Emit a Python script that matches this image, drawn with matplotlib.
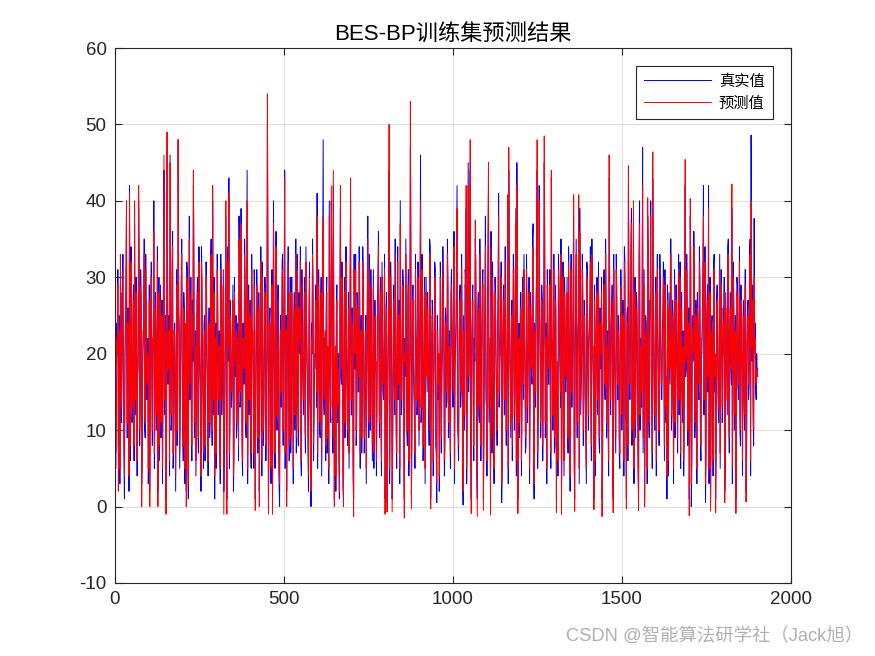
import numpy as np
import matplotlib
matplotlib.use("Agg")
from matplotlib import pyplot as plt

# readings of the training set, taken at two offsets inside every 3-sample step
true_a = [
	29, 14, 22, 8, 25, 19, 11, 27, 15, 1, 24, 38, 9, 18, 42, 6, 21, 13, 29, 37,
	12, 26, 17, 40, 8, 31, 3, 19, 24, 10, 33, 14, 22, 7, 2, 28, 16, 20, 40, 11,
	23, 15, 2, 30, 18, 9, 27, 13, 44, 20, 1, 47, 16, 25, 46, 10, 32, 5, 21, 14,
	19, 8, 48, 24, 12, 29, 17, 6, 26, 15, 2, 31, 1, 38, 20, 11, 27, 42, 9, 23,
	16, 30, 7, 21, 13, 34, 18, 5, 25, 11, 28, 15, 22, 9, 32, 17, 40, 12, 1, 24,
	14, 27, 19, 8, 33, 12, 24, 2, 17, 38, 1, 26, 43, 10, 21, 15, 29, 6, 18, 25,
	11, 20, 38, 13, 39, 7, 24, 16, 30, 9, 44, 18, 12, 27, 5, 22, 15, 31, 1, 19,
	26, 13, 2, 23, 17, 32, 8, 20, 28, 14, 50, 1, 24, 18, 10, 1.5, 40, 16, 29, 12,
	21, 9, 0, 25, 15, 33, 19, 44, 11, 2, 27, 14, 22, 7, 30, 17, 24, 10, 35, 18,
	13, 28, 20, 6, 31, 16, 23, 11, 34, 19, 8, 26, 14, 0, 22, 29, 12, 18, 25, 41,
	15, 24, 9, 30, 18, 48, 12, 21, 27, 7, 17, 40, 14, 40, 23, 42, 1, 19, 26, 11,
	20, 1, 39, 16, 25, 1, 30, 13, 22, 8, 28, 17, 40, 12, 24, 1, 19, 33, 10, 26,
	15, 29, 21, 7, 34, 18, 11, 25, 16, 38, 9, 23, 31, 14, 20, 5, 27, 17, 12, 30,
	18, 24, 10, 32, 15, 21, 1, 26, 0.5, 19, 44, 13, 28, 1, 22, 16, 35, 9, 24, 14,
	27, 40, 12, 20, 29, 1, 17, 23, 8, 31, 15, 47, 1.5, 25, 18, 11, 33, 20, 14, 26,
	19, 46, 13, 24, 9, 30, 17, 22, 28, 12, 35, 1, 20, 26, 15, 32, 8, 0.5, 23, 18,
	11, 27, 16, 34, 21, 7, 25, 14, 30, 19, 10, 28, 22, 13, 36, 17, 24, 42, 9, 20,
	29, 15, 23, 0.2, 18, 31, 39, 12, 45, 20, 44, 1, 26, 14, 22, 35, 17, 1, 28, 11,
	24, 18, 30, 1, 21, 38, 13, 26, 42, 16, 1, 23, 32, 10, 19, 27, 14, 22, 41, 17,
	25, 0.5, 20, 29, 12, 23, 16, 38, 44, 21, 9, 27, 18, 31, 14, 39, 45, 1, 24, 15,
	28, 12, 22, 33, 17, 8, 26, 19, 30, 13, 24, 16, 37, 1, 21, 28, 44, 11, 42, 20,
	14, 27, 18, 45, 9, 24, 31, 16, 22, 12, 43, 19, 26, 7, 29, 1, 17, 33, 21, 13,
	1, 25, 19, 30, 15, 22, 10, 34, 18, 26, 13, 21, 38, 1, 28, 16, 23, 38, 39, 12,
	20, 29, 14, 24, 8, 32, 17, 22, 27, 11, 35, 19, 1, 25, 15, 30, 21, 9, 26, 18,
	1, 23, 31, 14, 27, 19, 10, 43, 16, 24, 29, 1, 20, 12, 33, 18, 25, 7, 22, 28,
	15, 21, 34, 12, 1, 26, 42, 17, 23, 39, 14, 38, 20, 9, 28, 16, 1, 40, 22, 13,
	47, 18, 1, 25, 19, 38, 12, 27, 40, 15, 43, 21, 10, 30, 17, 24, 8, 33, 20, 14,
	26, 19, 31, 11, 1, 22, 28, 16, 35, 13, 24, 20, 9, 29, 17, 25, 12, 32, 21, 15,
	23, 10, 42, 18, 27, 14, 1, 38, 0, 25, 19, 30, 12, 22, 28, 16, 34, 9, 20, 26,
	42, 17, 0.5, 23, 29, 42, 13, 1, 24, 19, 31, 15, 1, 27, 21, 11, 33, 18, 25, 14,
	22, 2, 28, 17, 34, 12, 24, 19, 39, 15, 26, 21, 1, 30, 16, 23, 10, 29, 18, 25,
	13, 31, 2, 22, 27, 16, 35, 48.6, 19, 11, 37.7, 24, 14, 17,
]

true_b = [
	5, 24, 31, 12, 3, 28, 17, 33, 7, 20, 30, 9, 26, 2, 19, 34, 11, 27, 6, 22,
	30, 4, 18, 33, 13, 27, 6, 21, 35, 9, 25, 16, 3, 29, 14, 32, 8, 23, 5, 28,
	10, 34, 21, 6, 29, 15, 3, 31, 12, 25, 7, 33, 19, 4, 27, 11, 36, 8, 24, 2,
	31, 13, 26, 5, 20, 35, 10, 28, 3, 22, 32, 7, 25, 14, 30, 6, 19, 33, 12, 4,
	27, 9, 34, 17, 2, 29, 13, 24, 6, 32, 18, 4, 26, 11, 35, 8, 21, 30, 15, 5,
	33, 12, 23, 3, 28, 16, 31, 7, 25, 10, 34, 19, 5, 27, 13, 22, 2, 30, 17, 9,
	24, 6, 32, 14, 27, 4, 19, 35, 11, 26, 3, 29, 16, 8, 33, 21, 5, 25, 12, 31,
	7, 28, 15, 34, 4, 23, 12, 30, 6, 20, 33, 9, 26, 3, 31, 14, 24, 5, 36, 10,
	29, 3, 22, 13, 32, 8, 27, 5, 25, 17, 34, 6, 30, 11, 19, 3, 28, 15, 7, 33,
	8, 25, 34, 4, 21, 12, 30, 7, 27, 16, 2, 32, 10, 24, 35, 6, 18, 29, 13, 5,
	31, 10, 26, 4, 35, 14, 22, 6, 30, 19, 3, 28, 11, 33, 7, 25, 16, 2, 29, 12,
	6, 27, 17, 32, 3, 24, 9, 34, 14, 21, 5, 30, 12, 26, 4, 33, 18, 8, 28, 15,
	34, 5, 25, 12, 30, 7, 22, 3, 28, 16, 33, 10, 24, 6, 31, 13, 20, 4, 27, 36,
	9, 30, 4, 23, 14, 33, 6, 28, 11, 25, 3, 32, 18, 7, 29, 12, 24, 5, 34, 17,
	3, 26, 13, 31, 7, 22, 35, 10, 27, 4, 20, 33, 9, 29, 15, 5, 24, 12, 32, 8,
	28, 11, 33, 6, 24, 3, 30, 15, 21, 8, 34, 12, 27, 4, 19, 31, 7, 25, 14, 2,
	32, 7, 20, 29, 4, 26, 13, 35, 9, 23, 5, 31, 16, 28, 3, 22, 34, 11, 6, 27,
	13, 33, 5, 25, 10, 30, 3, 27, 15, 34, 8, 22, 29, 6, 19, 32, 4, 26, 12, 35,
	6, 24, 31, 9, 28, 14, 4, 33, 11, 20, 36, 7, 25, 3, 30, 17, 8, 29, 13, 22,
	32, 5, 27, 12, 34, 8, 21, 3, 29, 15, 24, 6, 33, 10, 26, 4, 31, 18, 9, 28,
	4, 30, 14, 25, 7, 33, 11, 22, 3, 28, 17, 35, 6, 24, 13, 31, 5, 20, 27, 9,
	29, 6, 23, 34, 12, 3, 27, 16, 31, 5, 21, 10, 33, 8, 26, 14, 4, 30, 18, 35,
	11, 32, 4, 26, 15, 30, 7, 24, 2, 33, 13, 28, 6, 20, 35, 9, 25, 3, 29, 16,
	33, 8, 27, 13, 3, 31, 10, 24, 34, 6, 22, 15, 29, 4, 26, 12, 32, 7, 21, 30,
	5, 28, 16, 35, 9, 23, 4, 30, 12, 26, 3, 33, 18, 7, 29, 14, 24, 5, 31, 10,
	27, 4, 32, 11, 25, 6, 29, 14, 35, 8, 22, 3, 30, 17, 26, 5, 33, 10, 19, 28,
	7, 31, 13, 24, 3, 34, 9, 27, 16, 5, 30, 12, 25, 4, 33, 18, 8, 28, 14, 23,
	32, 6, 25, 15, 29, 4, 22, 35, 10, 27, 3, 31, 13, 24, 7, 33, 16, 5, 28, 11,
	4, 29, 17, 33, 8, 26, 12, 31, 5, 22, 36, 9, 27, 3, 24, 14, 30, 6, 20, 32,
	12, 34, 6, 27, 15, 3, 30, 10, 25, 4, 33, 18, 7, 29, 13, 22, 5, 31, 11, 26,
	30, 5, 23, 12, 35, 7, 28, 16, 3, 32, 10, 25, 6, 29, 14, 34, 8, 21, 4, 27,
	10, 31, 6, 26, 14, 33, 4, 24, 29, 8, 22, 15, 20, 18,
]

pred_a = [
	28, 16, 20, 2, 23, 33, 13, 25, 17, 4, 26, 40, 11, 16, 41, 8, 19, 15, 27, 40,
	14, 24, 19, 42, 10, 29, 0, 21, 22, 12, 31, 16, 20, 9, 0, 26, 18, 22, 36, 13,
	21, 17, 0, 28, 20, 11, 25, 15, 46, 18, -1, 49, 18, 23, 45, 12, 30, 7, 23, 16,
	17, 10, 48, 22, 14, 27, 19, 8, 24, 17, 0, 29, 3, 35, 22, 13, 25, 44, 11, 21,
	18, 28, 9, 23, 15, 32, 20, 7, 23, 13, 26, 17, 20, 11, 30, 19, 42, 14, 4, 22,
	16, 25, 21, 10, 31, 14, 22, -1, 19, 40, -1, 24, 41, 12, 23, 17, 27, 8, 20, 23,
	13, 18, 35, 15, 37, 9, 22, 18, 28, 11, 40, 20, 14, 25, 7, 20, 17, 29, -0.5, 21,
	24, 15, 0, 21, 19, 30, 10, 22, 26, 16, 54, -1, 22, 20, 12, -1, 37, 18, 27, 14,
	19, 11, 3, 23, 17, 31, 21, 43, 13, 0, 25, 16, 20, 9, 28, 19, 22, 12, 33, 20,
	15, 26, 22, 8, 29, 18, 21, 13, 32, 21, 10, 24, 16, 2, 20, 27, 14, 20, 23, 38,
	17, 22, 11, 28, 20, 38, 14, 23, 25, 9, 19, 38, 16, 42, 21, 44, 0, 21, 24, 13,
	18, 2, 42, 18, 23, 0, 28, 15, 20, 10, 26, 19, 43, 14, 22, -1.3, 21, 31, 12, 24,
	17, 27, 23, 9, 32, 20, 13, 23, 18, 35, 11, 21, 29, 16, 22, 7, 25, 19, 14, 28,
	20, 22, 12, 30, 17, 19, -1, 24, -0.7, 21, 50, 15, 26, -0.7, 20, 18, 33, 11, 22, 16,
	25, 37, 14, 22, 27, -1.5, 19, 21, 10, 29, 17, 53, -0.3, 23, 20, 13, 31, 22, 16, 24,
	21, 40, 15, 22, 11, 28, 19, 20, 26, 14, 33, -0.3, 22, 24, 17, 30, 10, 3, 21, 20,
	13, 25, 18, 32, 23, 9, 23, 16, 28, 21, 12, 26, 24, 15, 34, 19, 22, 39, 11, 22,
	27, 17, 21, 2, 20, 29, 42, 14, 42, 22, 48, -0.9, 24, 16, 20, 37.5, 19, -1.3, 26, 13,
	22, 20, 28, -0.5, 23, 34, 15, 24, 45, 18, -1.1, 21, 30, 12, 21, 25, 16, 20, 38, 19,
	23, 3, 22, 27, 14, 21, 18, 40.8, 47, 19, 11, 25, 20, 29, 16, 37, 42, -0.9, 22, 17,
	26, 14, 20, 31, 19, 10, 24, 21, 28, 15, 22, 18, 34, 3, 23, 26, 48, 13, 40, 22,
	16, 25, 20, 48.5, 11, 22, 29, 18, 20, 14, 44, 21, 24, 9, 27, -0.8, 19, 31, 23, 15,
	-1, 23, 21, 28, 17, 20, 12, 32, 20, 24, 15, 19, 40.8, -0.6, 26, 18, 21, 40.8, 36, 14,
	22, 27, 16, 22, 10, 30, 19, 20, 25, 13, 33, 21, -0.4, 23, 17, 28, 23, 11, 24, 20,
	-1.3, 21, 29, 16, 25, 21, 12, 46, 18, 22, 27, -0.8, 22, 14, 31, 20, 23, 9, 20, 26,
	17, 19, 32, 14, -0.3, 24, 44.6, 19, 21, 37, 16, 40, 22, 11, 26, 18, -0.5, 37, 20, 15,
	42, 20, 0, 23, 21, 40.4, 14, 25, 38, 17, 46.4, 19, 12, 28, 19, 22, 10, 31, 22, 16,
	24, 21, 29, 13, 4, 20, 26, 18, 33, 15, 22, 22, 11, 27, 19, 23, 14, 30, 23, 17,
	21, 12, 45.4, 20, 25, 16, -1.2, 40.3, 3, 23, 21, 28, 14, 20, 26, 18, 32, 11, 22, 24,
	38, 19, 3, 21, 27, 39, 15, -0.6, 22, 21, 29, 17, -0.8, 25, 23, 13, 31, 20, 23, 16,
	20, 0.5, 26, 19, 32, 14, 22, 21, 42.2, 17, 24, 23, -0.9, 28, 18, 21, 12, 27, 20, 23,
	15, 29, 0.6, 20, 25, 18, 33, 40, 21, 13, 30, 22, 16, 18,
]

pred_b = [
	7, 22, 29, 14, 5, 26, 19, 31, 9, 18, 28, 11, 24, 4, 21, 32, 13, 25, 8, 20,
	28, 6, 20, 31, 15, 25, 8, 23, 33, 11, 23, 18, 5, 27, 16, 30, 10, 21, 7, 26,
	12, 32, 19, 8, 27, 17, 5, 29, 14, 23, 9, 31, 21, 6, 25, 13, 34, 10, 22, 4,
	29, 15, 24, 7, 22, 33, 12, 26, 5, 24, 30, 9, 23, 16, 28, 8, 21, 31, 14, 6,
	25, 11, 32, 19, 4, 27, 15, 22, 8, 30, 20, 6, 24, 13, 33, 10, 23, 28, 17, 7,
	31, 14, 21, 5, 26, 18, 29, 9, 23, 12, 32, 21, 7, 25, 15, 20, 4, 28, 19, 11,
	22, 8, 30, 16, 25, 6, 21, 33, 13, 24, 5, 27, 18, 10, 31, 23, 7, 23, 14, 29,
	9, 26, 17, 32, 6, 21, 14, 28, 8, 22, 31, 11, 24, 5, 29, 16, 22, 7, 34, 12,
	27, 5, 20, 15, 30, 10, 25, 7, 23, 19, 32, 8, 28, 13, 21, 5, 26, 17, 9, 31,
	10, 23, 32, 6, 23, 14, 28, 9, 25, 18, 4, 30, 12, 22, 33, 8, 20, 27, 15, 7,
	29, 12, 24, 6, 33, 16, 20, 8, 28, 21, 5, 26, 13, 31, 9, 23, 18, 4, 27, 14,
	8, 25, 19, 30, 5, 22, 11, 32, 16, 19, 7, 28, 14, 24, 6, 31, 20, 10, 26, 17,
	32, 7, 23, 14, 28, 9, 20, 5, 26, 18, 31, 12, 22, 8, 29, 15, 18, 6, 25, 34,
	11, 28, 6, 21, 16, 31, 8, 26, 13, 23, 5, 30, 20, 9, 27, 14, 22, 7, 32, 19,
	5, 24, 15, 29, 9, 20, 33, 12, 25, 6, 22, 31, 11, 27, 17, 7, 22, 14, 30, 10,
	26, 13, 31, 8, 22, 5, 28, 17, 19, 10, 32, 14, 25, 6, 21, 29, 9, 23, 16, 4,
	30, 9, 22, 27, 6, 24, 15, 33, 11, 21, 7, 29, 18, 26, 5, 20, 32, 13, 8, 25,
	15, 31, 7, 23, 12, 28, 5, 25, 17, 32, 10, 20, 27, 8, 21, 30, 6, 24, 14, 33,
	8, 22, 29, 11, 26, 16, 6, 31, 13, 22, 34, 9, 23, 5, 28, 19, 10, 27, 15, 20,
	30, 7, 25, 14, 32, 10, 23, 5, 27, 17, 22, 8, 31, 12, 24, 6, 29, 20, 11, 26,
	6, 28, 16, 23, 9, 31, 13, 20, 5, 26, 19, 33, 8, 22, 15, 29, 7, 22, 25, 11,
	27, 8, 21, 32, 14, 5, 25, 18, 29, 7, 23, 12, 31, 10, 24, 16, 6, 28, 20, 33,
	13, 30, 6, 24, 17, 28, 9, 22, 4, 31, 15, 26, 8, 22, 33, 11, 23, 5, 27, 18,
	31, 10, 25, 15, 5, 29, 12, 22, 32, 8, 20, 17, 27, 6, 24, 14, 30, 9, 23, 28,
	7, 26, 18, 33, 11, 21, 6, 28, 14, 24, 5, 31, 20, 9, 27, 16, 22, 7, 29, 12,
	25, 6, 30, 13, 23, 8, 27, 16, 33, 10, 20, 5, 28, 19, 24, 7, 31, 12, 21, 26,
	9, 29, 15, 22, 5, 32, 11, 25, 18, 7, 28, 14, 23, 6, 31, 20, 10, 26, 16, 21,
	30, 8, 23, 17, 27, 6, 24, 33, 12, 25, 5, 29, 15, 22, 9, 31, 18, 7, 26, 13,
	6, 27, 19, 31, 10, 24, 14, 29, 7, 20, 34, 11, 25, 5, 22, 16, 28, 8, 22, 30,
	14, 32, 8, 25, 17, 5, 28, 12, 23, 6, 31, 20, 9, 27, 15, 20, 7, 29, 13, 24,
	28, 7, 21, 14, 33, 9, 26, 18, 5, 30, 12, 23, 8, 27, 16, 32, 10, 19, 6, 25,
	12, 29, 8, 24, 16, 31, 6, 22, 27, 10, 20, 17, 18, 17,
]

x_ticks = [0, 500, 1000, 1500, 2000]
y_ticks = [-10, 0, 10, 20, 30, 40, 50, 60]
legend_labels = ["真实值", "预测值"]
title_text = "BES-BP训练集预测结果"
watermark = "CSDN @智能算法研学社（Jack旭）"

font_list = ["Liberation Sans", "Noto Sans CJK SC", "DejaVu Sans"]
plt.rcParams["font.family"] = font_list
plt.rcParams["axes.unicode_minus"] = False

fig = plt.figure(figsize=(8.75, 6.56), dpi=100)
ax = fig.add_axes([0.1314, 0.1113, 0.7726, 0.8155])

# merge the two offset readings into one sample sequence
idx = np.arange(len(true_a))
x = np.column_stack((1 + 3 * idx, 2.5 + 3 * idx)).ravel()
y_true = np.column_stack((true_a, true_b)).ravel()
y_pred = np.column_stack((pred_a, pred_b)).ravel()

ax.plot(x, y_true, color="#0000ff", lw=0.7, label=legend_labels[0])
ax.plot(x, y_pred, color="#ff0000", lw=0.7, label=legend_labels[1])

ax.set_xlim(0, 2000)
ax.set_ylim(-10, 60)
ax.set_xticks(x_ticks)
ax.set_yticks(y_ticks)
ax.grid(True, color="#dedede", lw=0.8)
ax.set_axisbelow(True)
ax.tick_params(direction="in", length=5, width=0.8, colors="#262626",
			   labelsize=13.5, top=True, right=True, pad=6)
for s in ax.spines.values():
	s.set_color("#262626")
	s.set_linewidth(0.8)

ax.set_title(title_text, fontsize=16, color="#000000", pad=5)

leg = ax.legend(loc="upper right", bbox_to_anchor=(0.9734, 0.9664),
				borderaxespad=0, handlelength=4.4, handletextpad=0.5,
				borderpad=0.55, labelspacing=0.5, fancybox=False,
				framealpha=1, edgecolor="#262626",
				prop={"family": font_list, "size": 11})
leg.get_frame().set_linewidth(0.8)

fig.text(0.987, 0.0305, watermark, ha="right", va="center", fontsize=13.2,
		 color="#b0b0b0")

fig.savefig("out.png", dpi=100)
